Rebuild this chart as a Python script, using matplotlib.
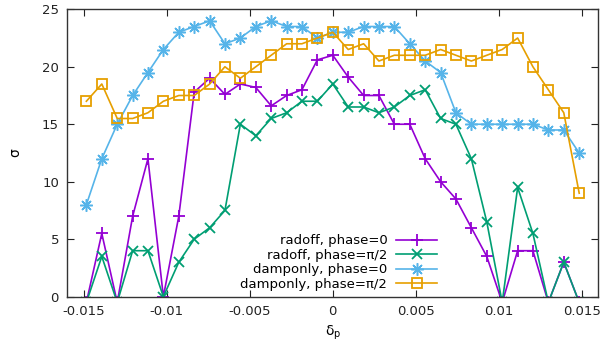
import matplotlib
matplotlib.use("Agg")
import matplotlib.pyplot as plt

# delta_p positions of the scan
delta_p = [-0.01485, -0.01392, -0.01299, -0.01206, -0.01114, -0.01021,
           -0.00928, -0.00835, -0.00742, -0.0065, -0.00557, -0.00464,
           -0.00371, -0.00278, -0.00186, -0.00093, 0.0,
           0.00093, 0.00186, 0.00278, 0.00371, 0.00464, 0.00557,
           0.0065, 0.00742, 0.00835, 0.00928, 0.01021, 0.01114,
           0.01206, 0.01299, 0.01392, 0.01485]

# values just under the axis are off the chart (no marker in the original)
radoff_0 = [-0.5, 5.5, -0.5, 7.0, 12.0, 0, 7.0, 17.8, 19.0, 17.6, 18.5, 18.2,
            16.6, 17.5, 18.0, 20.6, 21.0, 19.1, 17.5, 17.5, 15.0, 15.0,
            12.0, 10.0, 8.5, 6.0, 3.5, -0.5, 4.0, 4.0, -0.5, 3.0, -0.5]
radoff_pi2 = [-0.5, 3.5, -0.5, 4.0, 4.0, 0, 3.0, 5.0, 6.0, 7.5, 15.0, 14.0,
              15.5, 16.0, 17.0, 17.0, 18.5, 16.5, 16.5, 16.0, 16.5, 17.5,
              18.0, 15.5, 15.0, 12.0, 6.5, -0.5, 9.5, 5.5, -0.5, 3.0, -0.5]
damponly_0 = [8.0, 12.0, 15.0, 17.5, 19.5, 21.5, 23.0, 23.5, 24.0, 22.0,
              22.5, 23.5, 24.0, 23.5, 23.5, 22.5, 23.0, 23.0, 23.5, 23.5,
              23.5, 22.0, 20.5, 19.5, 16.0, 15.0, 15.0, 15.0, 15.0, 15.0,
              14.5, 14.5, 12.5]
damponly_pi2 = [17.0, 18.5, 15.5, 15.5, 16.0, 17.0, 17.5, 17.5, 18.5, 20.0,
                19.0, 20.0, 21.0, 22.0, 22.0, 22.5, 23.0, 21.5, 22.0, 20.5,
                21.0, 21.0, 21.0, 21.5, 21.0, 20.5, 21.0, 21.5, 22.5, 20.0,
                18.0, 16.0, 9.0]

labels = ["radoff, phase=0", "radoff, phase=\u03c0/2",
          "damponly, phase=0", "damponly, phase=\u03c0/2"]
xticks = [-0.015, -0.01, -0.005, 0, 0.005, 0.01, 0.015]
xticklabels = ["-0.015", "-0.01", "-0.005", "0", "0.005", "0.01", "0.015"]
yticks = [0, 5, 10, 15, 20, 25]

plt.rcParams["font.family"] = ["DejaVu Sans"]
plt.rcParams["axes.unicode_minus"] = False

fig = plt.figure(figsize=(6.1, 3.54), dpi=100)
ax = fig.add_axes([0.1103, 0.1619, 0.8705, 0.8119])

styles = [
    dict(color="#9400d3", marker="+", ms=9, mew=1.3),
    dict(color="#009e73", marker="x", ms=7, mew=1.3),
    dict(color="#56b4e9", marker=(8, 2, 0), ms=9, mew=1.1),
    dict(color="#e69f00", marker="s", ms=7.5, mew=1.3, mfc="none"),
]
series = [radoff_0, radoff_pi2, damponly_0, damponly_pi2]
for ys, lab, st in zip(series, labels, styles):
    ax.plot(delta_p, ys, lw=1.2, label=lab, **st)

ax.set_xlim(-0.016, 0.016)
ax.set_ylim(0, 25)
ax.set_xticks(xticks)
ax.set_xticklabels(xticklabels)
ax.set_yticks(yticks)
ax.tick_params(direction="in", top=True, right=True, length=5,
               labelsize=9.5, colors="#222222", pad=6)
for sp in ax.spines.values():
    sp.set_color("#333333")
    sp.set_linewidth(1.0)
    sp.set_zorder(5)

ax.set_xlabel("\u03b4$_\\mathregular{p}$", fontsize=10, labelpad=4)
ax.set_ylabel("\u03c3", fontsize=10, labelpad=14)

ax.legend(loc="lower right", bbox_to_anchor=(0.697, 0.02), frameon=False,
          markerfirst=False, fontsize=9.5, handlelength=3.1,
          handletextpad=0.7, labelspacing=0.12, borderpad=0, borderaxespad=0)

fig.savefig("out.png", dpi=100)
